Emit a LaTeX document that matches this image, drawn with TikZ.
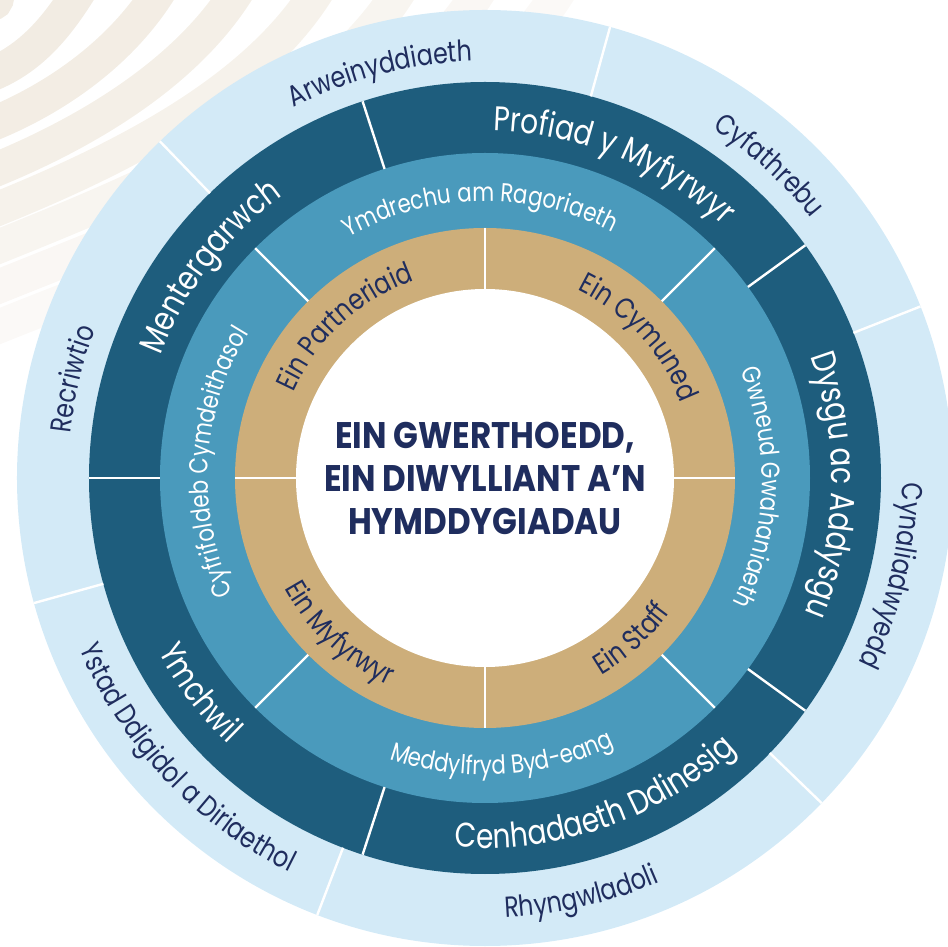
\documentclass[tikz,border=0pt]{standalone}
\usepackage{fontspec}
\setmainfont{Poppins}
\newfontfamily\wheelfont{Poppins}[FakeStretch=0.82]
\newfontfamily\titlefont{Poppins}[FakeStretch=0.88]
\usetikzlibrary{decorations.text}

\definecolor{navy}{HTML}{1F2D5E}
\definecolor{paleblue}{HTML}{D3EAF7}
\definecolor{deepblue}{HTML}{1E5D7D}
\definecolor{midblue}{HTML}{4A9ABC}
\definecolor{sand}{HTML}{CDAE7A}
\definecolor{wavebeige}{HTML}{F2ECE3}

\newcommand{\outerfont}{\wheelfont\fontsize{14.5pt}{17pt}\selectfont}
\newcommand{\darkfont}{\wheelfont\fontsize{17.1pt}{20pt}\selectfont}
\newcommand{\midfont}{\wheelfont\fontsize{13pt}{15pt}\selectfont}
\newcommand{\sandfont}{\wheelfont\fontsize{14.5pt}{17pt}\selectfont}

\begin{document}
\begin{tikzpicture}[x=0.5pt, y=0.5pt,
  divider/.style={white, line width=1.2pt},
  wave/.style={line width=17pt},
  ringlabel/.style 2 args={decorate, decoration={text along path, text align=center, text color=#1, text={#2}}},
  title/.style={align=center, text=navy, font=\titlefont\bfseries\fontsize{18.5pt}{21.5pt}\selectfont}]
\useasboundingbox (-485,-469) rectangle (463,478);
\clip (-485,-469) rectangle (463,478);
% background waves
\foreach \y/\x/\p in {5/0/100, 75/80/100, 125/160/95, 172/238/85, 212/318/70, 250/400/55, 290/480/40, 330/560/30}
  \draw[wave, wavebeige!\p!white] (-495,{478-\y}) .. controls +(22:{0.22*(\x+\y)+10}) and +(238:{0.22*(\x+\y)+10}) .. ({\x-485},488);
% rings
\fill[paleblue] (0,0) circle (468);
\fill[deepblue] (0,0) circle (396);
\fill[midblue] (0,0) circle (325);
\fill[sand] (0,0) circle (250);
\fill[white] (0,0) circle (189);
% dividers
\foreach \a in {134,74.5,21.5,-44,-111,195.5} \draw[divider] (\a:396) -- (\a:468);
\foreach \a in {180,108,36,-36,-108} \draw[divider] (\a:325) -- (\a:396);
\foreach \a in {45,135,225,315} \draw[divider] (\a:250) -- (\a:325);
\foreach \a in {0,90,180,270} \draw[divider] (\a:189) -- (\a:250);
% outer ring
\path[ringlabel={navy}{|\outerfont|Arweinyddiaeth}] (144.5:417) arc[start angle=144.5, end angle=64.5, radius=417];
\path[ringlabel={navy}{|\outerfont|Cyfathrebu}] (87.7:417) arc[start angle=87.7, end angle=7.7, radius=417];
\path[ringlabel={navy}{|\outerfont|Cynaliadwyedd}] (26.5:417) arc[start angle=26.5, end angle=-53.5, radius=417];
\path[ringlabel={navy}{|\outerfont|Rhyngwladoli}] (-117:440) arc[start angle=-117, end angle=-37, radius=440];
\path[ringlabel={navy}{|\outerfont|Ystad Ddigidol a Diriaethol}] (183.2:440) arc[start angle=183.2, end angle=263.2, radius=440];
\path[ringlabel={navy}{|\outerfont|Recriwtio}] (206.5:417) arc[start angle=206.5, end angle=126.5, radius=417];
% dark ring
\path[ringlabel={white}{|\darkfont|Profiad y Myfyrwyr}] (107.7:347) arc[start angle=107.7, end angle=27.7, radius=347];
\path[ringlabel={white}{|\darkfont|Mentergarwch}] (182.5:347) arc[start angle=182.5, end angle=102.5, radius=347];
\path[ringlabel={white}{|\darkfont|Dysgu ac Addysgu}] (38.8:347) arc[start angle=38.8, end angle=-41.2, radius=347];
\path[ringlabel={white}{|\darkfont|Cenhadaeth Ddinesig}] (-111:370) arc[start angle=-111, end angle=-31, radius=370];
\path[ringlabel={white}{|\darkfont|Ymchwil}] (177:370) arc[start angle=177, end angle=257, radius=370];
% middle ring
\path[ringlabel={white}{|\midfont|Ymdrechu am Ragoriaeth}] (131.1:277) arc[start angle=131.1, end angle=51.1, radius=277];
\path[ringlabel={white}{|\midfont|Gwneud Gwahaniaeth}] (38:277) arc[start angle=38, end angle=-42, radius=277];
\path[ringlabel={white}{|\midfont|Meddylfryd Byd-eang}] (233.5:297) arc[start angle=233.5, end angle=313.5, radius=297];
\path[ringlabel={white}{|\midfont|Cyfrifoldeb Cymdeithasol}] (216.5:277) arc[start angle=216.5, end angle=136.5, radius=277];
% sand ring
\path[ringlabel={navy}{|\sandfont|Ein Partneriaid}] (172.8:210) arc[start angle=172.8, end angle=92.8, radius=210];
\path[ringlabel={navy}{|\sandfont|Ein Cymuned}] (82.4:210) arc[start angle=82.4, end angle=2.4, radius=210];
\path[ringlabel={navy}{|\sandfont|Ein Staff}] (-87.7:229) arc[start angle=-87.7, end angle=-7.7, radius=229];
\path[ringlabel={navy}{|\sandfont|Ein Myfyrwyr}] (186.9:229) arc[start angle=186.9, end angle=266.9, radius=229];
% centre
\node[title] (title) at (0,0) {EIN GWERTHOEDD,\\EIN DIWYLLIANT A’N\\HYMDDYGIADAU};
\end{tikzpicture}
\end{document}
